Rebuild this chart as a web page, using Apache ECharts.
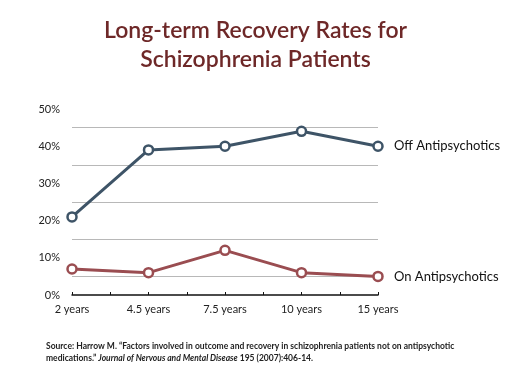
<!DOCTYPE html>
<html>
<head>
<meta charset="utf-8">
<script src="https://cdn.jsdelivr.net/npm/echarts@6/dist/echarts.min.js"></script>
<style>
  html, body { margin: 0; padding: 0; background: #fff; }
  #main { width: 511px; height: 377px; }
</style>
</head>
<body>
<div id="main"></div>
<script>
// data
const years = ['2 years', '4.5 years', '7.5 years', '10 years', '15 years'];
const offAntipsychotics = [21, 39, 40, 44, 40];
const onAntipsychotics = [7, 6, 12, 6, 5];
const seriesNames = ['Off Antipsychotics', 'On Antipsychotics'];
// half-step ticks between the categories
const halfTicks = ['', '', '', '', '', '', '', '', ''];

const chart = echarts.init(document.getElementById('main'));
const font = 'Lato, "Open Sans", sans-serif';

function lineSeries(name, data, color) {
  return {
    name: name,
    type: 'line',
    data: data,
    symbol: 'circle',
    symbolSize: 9,
    lineStyle: { color: color, width: 3 },
    itemStyle: { color: '#fff', borderColor: color, borderWidth: 2.5 },
    endLabel: {
      show: true,
      formatter: '{a}',
      distance: 16,
      color: '#111',
      fontFamily: font,
      fontSize: 13
    },
    z: 3
  };
}

const option = {
  animation: false,
  title: [
    {
      text: 'Long-term Recovery Rates for\nSchizophrenia Patients',
      left: 'center',
      top: 11,
      textStyle: {
        color: '#6e2828',
        fontFamily: font,
        fontSize: 23,
        fontWeight: 600,
        lineHeight: 29
      }
    },
    {
      text: '{n|Source: Harrow M. \u201cFactors involved in outcome and recovery in schizophrenia patients not on antipsychotic}\n{n|medications.\u201d }{i|Journal of Nervous and Mental Disease}{n| 195 (2007):406-14.}',
      left: 41,
      top: 335,
      textStyle: {
        rich: {
          n: { fontFamily: font, fontSize: 8.5, color: '#222', lineHeight: 12 },
          i: { fontFamily: font, fontSize: 8.5, color: '#222', fontStyle: 'italic', lineHeight: 12 }
        }
      }
    }
  ],
  grid: { left: 72, right: 133, top: 109, bottom: 82 },
  xAxis: [
    {
      type: 'category',
      data: years,
      boundaryGap: false,
      axisLine: { lineStyle: { color: '#111', width: 1.5 } },
      axisTick: { inside: true, length: 3, lineStyle: { color: '#111' } },
      axisLabel: { color: '#222', fontFamily: font, fontSize: 11, margin: 9 }
    },
    {
      type: 'category',
      data: halfTicks,
      boundaryGap: false,
      position: 'bottom',
      axisLine: { show: false },
      axisTick: { inside: true, length: 3, lineStyle: { color: '#111' } },
      axisLabel: { show: false }
    }
  ],
  yAxis: [
    {
      type: 'value',
      min: 0,
      max: 50,
      interval: 10,
      axisLine: { show: false },
      axisTick: { show: false },
      splitLine: { show: false },
      axisLabel: {
        formatter: '{value}%',
        color: '#222',
        fontFamily: font,
        fontSize: 11,
        margin: 12
      }
    },
    {
      type: 'value',
      min: 0,
      max: 50,
      interval: 5,
      position: 'left',
      axisLine: { show: false },
      axisTick: { show: false },
      axisLabel: { show: false },
      splitLine: {
        lineStyle: {
          color: ['rgba(0,0,0,0)', '#b8b8b8'],
          width: 1
        }
      }
    }
  ],
  series: [
    lineSeries(seriesNames[0], offAntipsychotics, '#3e5467'),
    lineSeries(seriesNames[1], onAntipsychotics, '#9a4d51')
  ]
};

chart.setOption(option);
</script>
</body>
</html>
